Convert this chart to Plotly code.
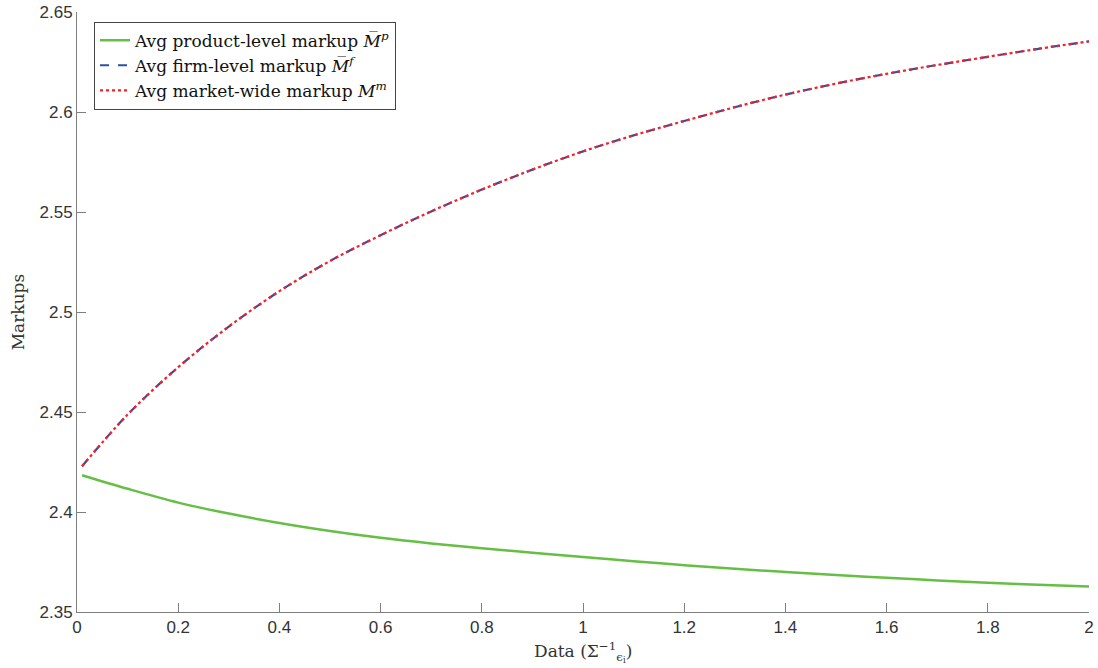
import plotly.graph_objects as go

x_vals = [0.01, 0.1, 0.2, 0.3, 0.4, 0.5, 0.6, 0.7, 0.8, 0.9, 1.0,
          1.1, 1.2, 1.3, 1.4, 1.5, 1.6, 1.7, 1.8, 1.9, 2.0]
product_markup = [2.4184, 2.4116, 2.4047, 2.3992, 2.3945, 2.3905, 2.3871, 2.3843,
                  2.3819, 2.3796, 2.3775, 2.3754, 2.3734, 2.3716, 2.3700, 2.3685,
                  2.3671, 2.3658, 2.3646, 2.3636, 2.3627]
firm_markup = [2.4229, 2.4487, 2.4724, 2.4927, 2.5104, 2.5255, 2.5384, 2.5503,
               2.5612, 2.5712, 2.5803, 2.5883, 2.5955, 2.6024, 2.6087, 2.6142,
               2.6191, 2.6235, 2.6276, 2.6316, 2.6353]
market_markup = list(firm_markup)

x_ticks = [0, 0.2, 0.4, 0.6, 0.8, 1, 1.2, 1.4, 1.6, 1.8, 2]
x_tick_text = ["0", "0.2", "0.4", "0.6", "0.8", "1", "1.2", "1.4", "1.6", "1.8", "2"]
y_ticks = [2.35, 2.4, 2.45, 2.5, 2.55, 2.6, 2.65]
y_tick_text = ["2.35", "2.4", "2.45", "2.5", "2.55", "2.6", "2.65"]

serif = "DejaVu Serif, Liberation Serif, serif"
sans = "Liberation Sans, Arial, Helvetica, sans-serif"

fig = go.Figure()
fig.add_trace(go.Scatter(
    x=x_vals, y=product_markup, mode="lines", line_shape="spline",
    line=dict(color="#66bf45", width=2.5),
    name="Avg product-level markup <i>M\u0305</i><sup><i>p</i></sup>"))
fig.add_trace(go.Scatter(
    x=x_vals, y=firm_markup, mode="lines", line_shape="spline",
    line=dict(color="#2f4fa0", width=2.2, dash="dash"),
    name="Avg firm-level markup <i>M\u0305</i><sup><i>f</i></sup>"))
fig.add_trace(go.Scatter(
    x=x_vals, y=market_markup, mode="lines", line_shape="spline",
    line=dict(color="#f4202c", width=2.2, dash="dot"),
    name="Avg market-wide markup <i>M</i><sup><i>m</i></sup>"))

axis_common = dict(
    showgrid=False, zeroline=False, showline=True, linecolor="#7f7f7f",
    linewidth=1, ticks="inside", ticklen=9, tickcolor="#7f7f7f", mirror=False,
    tickfont=dict(family=sans, size=17, color="#333333"), automargin=False,
)

fig.update_layout(
    width=1098, height=668,
    margin=dict(l=77, r=9, t=12, b=56),
    paper_bgcolor="white", plot_bgcolor="white",
    xaxis=dict(range=[0, 2], tickvals=x_ticks, ticktext=x_tick_text, **axis_common),
    yaxis=dict(range=[2.35, 2.65], tickvals=y_ticks, ticktext=y_tick_text, **axis_common),
    legend=dict(x=0.0168, y=0.984, xanchor="left", yanchor="top",
                bgcolor="white", bordercolor="#444444", borderwidth=1,
                font=dict(family=serif, size=17, color="#111111"),
                tracegroupgap=0, itemwidth=30),
    showlegend=True,
    annotations=[
        dict(text="Data (\u03a3<sup>\u22121</sup><sub>\u03f5<sub>i</sub></sub>)",
             xref="paper", yref="paper", x=0.5, y=-0.066,
             xanchor="center", yanchor="middle", showarrow=False,
             font=dict(family=serif, size=17, color="#333333")),
        dict(text="Markups", xref="paper", yref="paper", x=-0.058, y=0.5,
             xanchor="center", yanchor="middle", textangle=-90, showarrow=False,
             font=dict(family=serif, size=17, color="#333333")),
    ],
)

fig.write_html("out.html",
               config={"displayModeBar": False},
               post_script="document.body.style.margin='0';document.body.style.padding='0';")
